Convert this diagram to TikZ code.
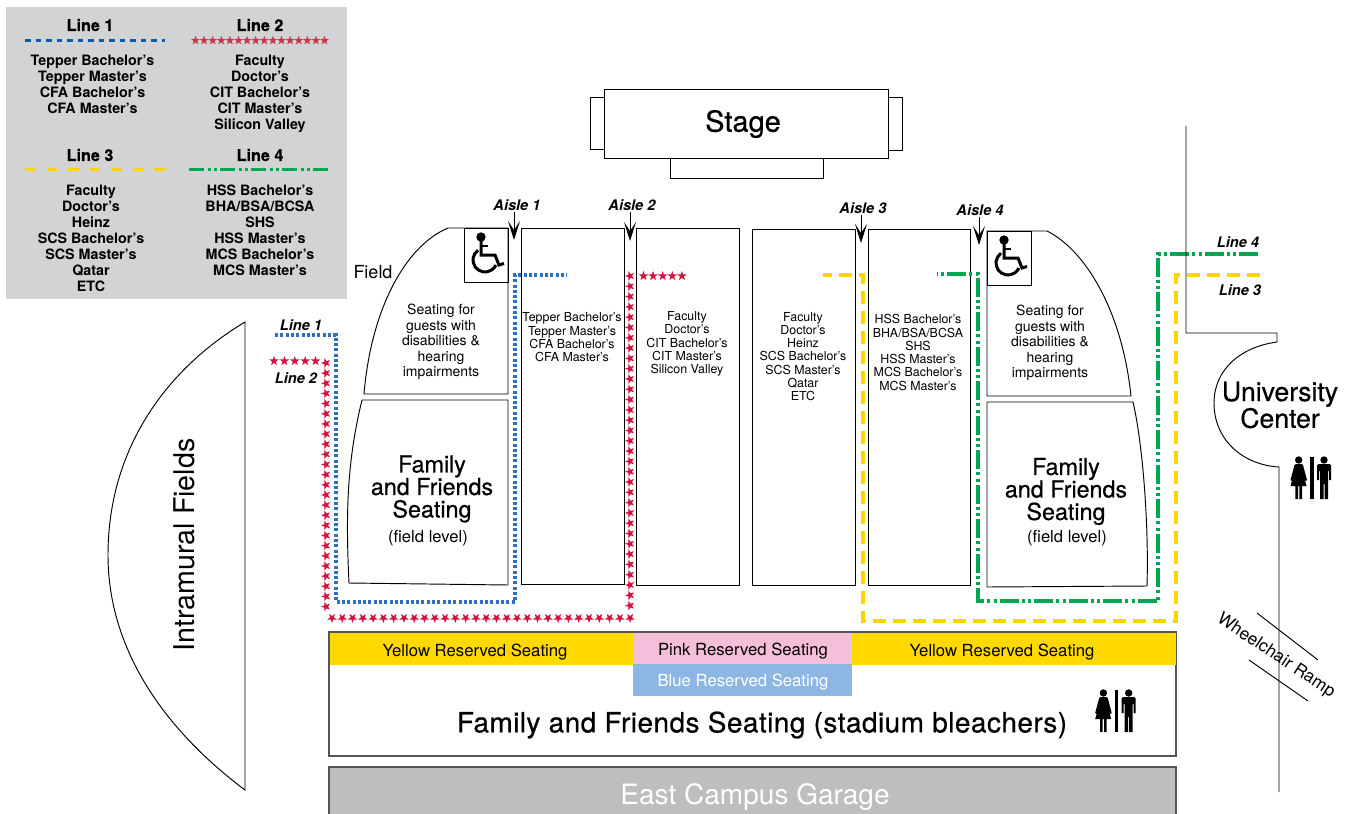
\documentclass[tikz,border=0pt]{standalone}
\usepackage{fontspec}
\setmainfont{TeX Gyre Heros}
\newfontfamily\medfont[FakeBold=0.55]{TeX Gyre Heros}
\newfontfamily\medwide[FakeBold=0.55,LetterSpace=1.6]{TeX Gyre Heros}
\newfontfamily\hvyfont[BoldFeatures={FakeBold=0.5}]{TeX Gyre Heros}
\usetikzlibrary{arrows.meta,shapes.geometric}
\definecolor{legendgray}{HTML}{D1D3D4}
\definecolor{lineblue}{HTML}{2F6FBF}
\definecolor{legendblue}{HTML}{0B5CA8}
\definecolor{linered}{HTML}{D4123F}
\definecolor{legendred}{HTML}{C8394A}
\definecolor{lineyellow}{HTML}{FFD500}
\definecolor{linegreen}{HTML}{00A651}
\definecolor{bandyellow}{HTML}{FFD900}
\definecolor{bandpink}{HTML}{F6BFD9}
\definecolor{bandblue}{HTML}{8DB7E2}
\definecolor{garagegray}{HTML}{BCBEC0}
\definecolor{framegray}{HTML}{555555}
\tikzset{
  x=1pt,y=-1pt,
  seat/.style={draw=black,line width=0.95pt,line join=miter},
  frameline/.style={draw=framegray,line width=1.2pt},
  txt/.style={inner sep=0pt,align=center,text=black},
  legendhead/.style={txt,font=\fontsize{16.2}{18}\selectfont\hvyfont\bfseries},
  legendbody/.style={txt,font=\fontsize{14.3}{16}\selectfont\bfseries},
  tag/.style={txt,font=\fontsize{14.6}{16}\selectfont\bfseries\itshape},
  colbody/.style={txt,font=\fontsize{12.4}{13.3}\selectfont},
  guestbody/.style={txt,font=\fontsize{14}{15.4}\selectfont},
  familybody/.style={txt,font=\fontsize{23.3}{22.5}\selectfont\medfont},
  fieldlevel/.style={txt,font=\fontsize{16.6}{18}\selectfont},
  bandtext/.style={txt,font=\fontsize{16.7}{18}\selectfont},
  aislearrow/.style={draw=black,line width=1pt,-{Stealth[length=19pt,width=12pt,inset=9pt]}},
  route1/.style={draw=lineblue,line width=3.4pt,dash pattern=on 3pt off 2.3pt},
  route3/.style={draw=lineyellow,line width=3.4pt,dash pattern=on 13pt off 7pt},
  route4/.style={draw=linegreen,line width=3.4pt,dash pattern=on 19pt off 3pt on 3pt off 3.5pt on 3pt off 3pt},
  starmark/.style={star,star points=5,star point ratio=2.5,fill=linered,draw=none,inner sep=0pt,minimum size=10pt},
  pics/wheelchair/.style={code={
    \fill (17,9) circle[radius=4.7pt];
    \draw[line width=3pt] (17,12) -- (17,27) -- (31,27) -- (35,37) -- (40,35.5);
    \draw[line width=2.6pt] (17,18) -- (24,18);
    \draw[line width=3pt] (21,32) ++(125:12pt) arc[start angle=125,end angle=335,radius=12pt];
  }},
  pics/restroom/.style={code={
    \fill (-13.3,-18) circle[radius=3.7pt];
    \fill (-16,-14) -- (-10.5,-14) -- (-9,-13) -- (-5,2) -- (-6.5,3) -- (-9.5,-6) -- (-5.5,8) -- (-10,8) -- (-10,21) -- (-12.7,21) -- (-12.7,8) -- (-14,8) -- (-14,21) -- (-16.7,21) -- (-16.7,8) -- (-21.5,8) -- (-17.5,-6) -- (-20,3) -- (-21.5,2) -- (-17.5,-13) -- cycle;
    \fill (-1.7,-21) rectangle (1.7,21);
    \fill (12,-18) circle[radius=3.7pt];
    \fill (6.5,-14) -- (17.5,-14) -- (19,-12.5) -- (19,2) -- (17,2) -- (17,-7) -- (16,-7) -- (16,21) -- (12.5,21) -- (12.5,6) -- (11.5,6) -- (11.5,21) -- (8,21) -- (8,-7) -- (7,-7) -- (7,2) -- (5,2) -- (5,-12.5) -- cycle;
  }},
}
\begin{document}
\begin{tikzpicture}
\useasboundingbox (0,0) rectangle (1345,814);
% ---------- legend
\fill[legendgray] (6,7) rectangle (347,299);
\node[legendhead] (h1) at (90,25) {Line 1};
\node[legendhead] (h2) at (260,25) {Line 2};
\node[legendhead] (h3) at (90,155) {Line 3};
\node[legendhead] (h4) at (260,155) {Line 4};
\draw[draw=legendblue,line width=3pt,dash pattern=on 5.5pt off 5pt] (25,40) -- (165,40);
\foreach \i in {0,...,15}
  \node[starmark,fill=legendred,minimum size=9.5pt] (ls\i) at ({195.5+8.6*\i},40.5) {};
\draw[draw=lineyellow,line width=3.2pt,dash pattern=on 10.5pt off 11pt] (25,169.5) -- (165,169.5);
\draw[draw=linegreen,line width=3pt,dash pattern=on 15pt off 3.5pt on 3pt off 3pt on 3pt off 3.5pt] (189,169.5) -- (329,169.5);
\node[legendbody,anchor=north] (l1) at (92.5,54.5) {Tepper Bachelor’s\\Tepper Master’s\\CFA Bachelor’s\\CFA Master’s};
\node[legendbody,anchor=north] (l2) at (260,54.5) {Faculty\\Doctor’s\\CIT Bachelor’s\\CIT Master’s\\Silicon Valley};
\node[legendbody,anchor=north] (l3) at (91,184.5) {Faculty\\Doctor’s\\Heinz\\SCS Bachelor’s\\SCS Master’s\\Qatar\\ETC};
\node[legendbody,anchor=north] (l4) at (260,184.5) {HSS Bachelor’s\\BHA/BSA/BCSA\\SHS\\HSS Master’s\\MCS Bachelor’s\\MCS Master’s};
% ---------- stage
\draw[seat] (590,97) rectangle (604,149);
\draw[seat] (888,97) rectangle (902,150);
\draw[seat] (670,158) rectangle (823,178);
\draw[seat] (604,89) rectangle (888,158);
\node[txt,font=\fontsize{29}{31}\selectfont\medfont] (stage) at (743,124) {Stage};
% ---------- left seating
\draw[seat] (448,228) -- (508,228) -- (508,394) -- (364,394) .. controls (371,310) and (405,246) .. (448,228) -- cycle;
\draw[seat] (464,228) rectangle (508,282);
\pic at (464,228) {wheelchair};
\draw[seat] (362,400) -- (508,400) -- (508,585) -- (349,583) .. controls (346,520) and (346,465) .. (362,400) -- cycle;
\node[txt,font=\fontsize{18}{20}\selectfont] (field) at (373,272.5) {Field};
\node[guestbody] (g1) at (441,342) {Seating for\\guests with\\disabilities \&\\hearing\\impairments};
\node[familybody] (f1) at (432,489) {Family\\and Friends\\Seating};
\node[fieldlevel] (fl1) at (428,538) {(field level)};
% ---------- columns
\draw[seat] (521,228) rectangle (624,584);
\draw[seat] (636,228) rectangle (739,585);
\draw[seat] (752,229) rectangle (855,585);
\draw[seat] (868,229) rectangle (970,585);
\node[colbody] (c1) at (572,337.5) {Tepper Bachelor’s\\Tepper Master’s\\CFA Bachelor’s\\CFA Master’s};
\node[colbody] (c2) at (687,344) {Faculty\\Doctor’s\\CIT Bachelor’s\\CIT Master’s\\Silicon Valley};
\node[colbody] (c3) at (803,356.5) {Faculty\\Doctor’s\\Heinz\\SCS Bachelor’s\\SCS Master’s\\Qatar\\ETC};
\node[colbody] (c4) at (918,352.5) {HSS Bachelor’s\\BHA/BSA/BCSA\\SHS\\HSS Master’s\\MCS Bachelor’s\\MCS Master’s};
% ---------- right seating
\draw[seat] (987,231) -- (1047,231) .. controls (1085,250) and (1122,310) .. (1131,396) -- (987,396) -- cycle;
\draw[seat] (987,231) rectangle (1031,285);
\pic at (987,231) {wheelchair};
\draw[seat] (987,402) -- (1133,402) .. controls (1142,440) and (1149,520) .. (1147,586) -- (987,587) -- cycle;
\node[guestbody] (g2) at (1050,343) {Seating for\\guests with\\disabilities \&\\hearing\\impairments};
\node[familybody] (f2) at (1066,491.5) {Family\\and Friends\\Seating};
\node[fieldlevel] (fl2) at (1067,538) {(field level)};
% ---------- aisles
\node[tag] (a1) at (517,205.5) {Aisle 1};
\node[tag] (a2) at (632,205.5) {Aisle 2};
\node[tag] (a3) at (863,208.5) {Aisle 3};
\node[tag] (a4) at (980,210.5) {Aisle 4};
\coordinate (a1s) at (514,212); \coordinate (a1e) at (514,240);
\coordinate (a2s) at (630,212); \coordinate (a2e) at (630,241);
\coordinate (a3s) at (861,215); \coordinate (a3e) at (861,243);
\coordinate (a4s) at (979,217); \coordinate (a4e) at (979,245);
\draw[aislearrow] (a1s) -- (a1e);
\draw[aislearrow] (a2s) -- (a2e);
\draw[aislearrow] (a3s) -- (a3e);
\draw[aislearrow] (a4s) -- (a4e);
% ---------- routes
\draw[route1] (275,335) -- (336,335) -- (336,602) -- (515,602) -- (515,275) -- (567,275);
\draw[route3] (1260,275) -- (1176,275) -- (1176,621) -- (863,621) -- (863,275) -- (823,275);
\draw[route4] (1258,254) -- (1158,254) -- (1158,601) -- (978,601) -- (978,274) -- (937,274);
\foreach \i in {0,...,4}
  \node[starmark] (sa\i) at ({274+10.4*\i},361) {};
\foreach \i in {0,...,24}
  \node[starmark,shape border rotate=90] (sb\i) at (326,{363+10.15*\i}) {};
\foreach \i in {0,...,29}
  \node[starmark,shape border rotate=180] (sc\i) at ({332+10.28*\i},618) {};
\foreach \i in {0,...,32}
  \node[starmark,shape border rotate=90] (sd\i) at (630,{276+10.3*\i}) {};
\foreach \i in {0,...,4}
  \node[starmark] (se\i) at ({643.5+9.6*\i},276) {};
\node[tag] (r1) at (301,325.5) {Line 1};
\node[tag] (r2) at (296,378.5) {Line 2};
\node[tag] (r4) at (1238,242.5) {Line 4};
\node[tag] (r3) at (1240,290.5) {Line 3};
% ---------- bleachers
\draw[frameline,fill=white] (329,632) rectangle (1176,756);
\fill[bandyellow] (330,633) rectangle (633,665);
\fill[bandyellow] (852,633) rectangle (1175.5,665);
\fill[bandpink] (633,633) rectangle (852,664);
\fill[bandblue] (633,664) rectangle (852,696);
\node[bandtext] (y1) at (475,652) {Yellow Reserved Seating};
\node[bandtext] (y2) at (1002,652) {Yellow Reserved Seating};
\node[bandtext] (p1) at (743,651) {Pink Reserved Seating};
\node[bandtext,text=white] (b1) at (743,682) {Blue Reserved Seating};
\node[txt,font=\fontsize{28}{30}\selectfont\medwide] (ff) at (762,725) {Family and Friends Seating (stadium bleachers)};
\pic at (1116.7,711) {restroom};
% ---------- garage
\draw[frameline,fill=garagegray] (329,767) -- (1176,767) -- (1176,814.5) -- (329,814.5) -- cycle;
\node[txt,text=white,font=\fontsize{28}{30}\selectfont] (garage) at (755,797) {East Campus Garage};
% ---------- intramural fields
\draw[seat] (245,322) .. controls (165,370) and (108,450) .. (108,555) .. controls (108,650) and (165,730) .. (245,790) -- cycle;
\node[txt,rotate=90,font=\fontsize{28.6}{30}\selectfont] (imf) at (184,545) {Intramural Fields};
% ---------- university center
\draw[seat] (1186,126) -- (1186,333) -- (1277,333) -- (1277,342) .. controls (1240,347) and (1214,370) .. (1214,403) .. controls (1214,440) and (1243,465) .. (1279,467) -- (1279,792);
\node[txt,font=\fontsize{26.6}{25}\selectfont\medfont] (uc) at (1280,405) {University\\Center};
\pic at (1312,478) {restroom};
% ---------- ramp
\draw[seat] (1257,613) -- (1318,660);
\draw[seat] (1249,660) -- (1308,701);
\node[txt,rotate=-33.5,font=\fontsize{17.3}{19}\selectfont] (ramp) at (1276,656) {Wheelchair Ramp};
\end{tikzpicture}
\end{document}
